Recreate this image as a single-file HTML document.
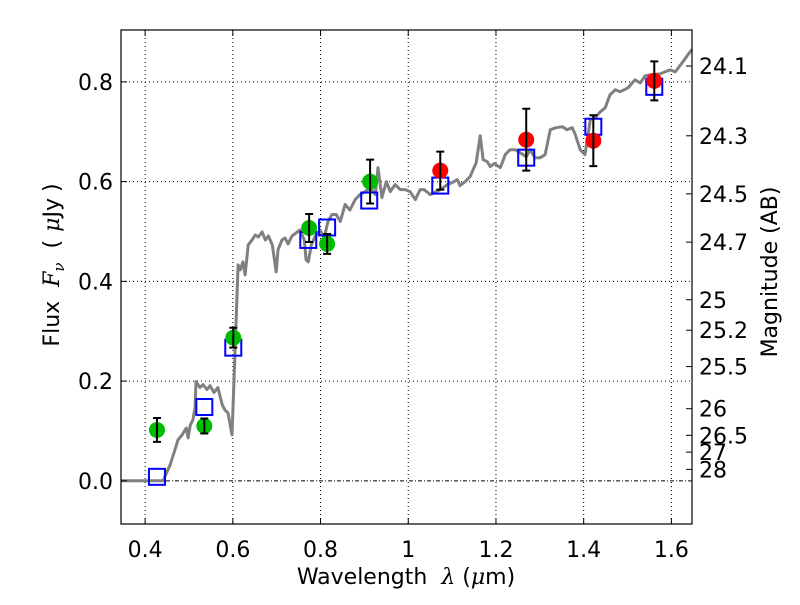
<!DOCTYPE html>
<html><head><meta charset="utf-8"><style>
body{margin:0;background:#fff;}
svg text{font-family:"DejaVu Sans","Liberation Sans",sans-serif;}
</style></head><body>
<svg id="chart" width="800" height="600" xmlns="http://www.w3.org/2000/svg">
<rect width="800" height="600" fill="#fff"/>
<g id="grid"></g>
<g id="plot"></g>
<g id="axes"></g>
</svg>
<script>
const modelLam=[0.345,0.441,0.457,0.468,0.475,0.484,0.494,0.498,0.503,0.509,0.514,0.516,0.525,0.532,0.541,0.548,0.557,0.566,0.576,0.582,0.589,0.598,0.601,0.612,0.617,0.623,0.628,0.635,0.644,0.651,0.658,0.667,0.674,0.681,0.690,0.699,0.703,0.712,0.719,0.726,0.735,0.744,0.753,0.763,0.767,0.772,0.779,0.788,0.799,0.808,0.817,0.826,0.836,0.845,0.856,0.867,0.879,0.890,0.902,0.913,0.925,0.931,0.940,0.950,0.959,0.970,0.982,0.993,1.004,1.016,1.027,1.036,1.050,1.073,1.089,1.100,1.112,1.118,1.130,1.141,1.155,1.164,1.171,1.180,1.187,1.196,1.210,1.221,1.232,1.244,1.255,1.269,1.278,1.289,1.301,1.312,1.324,1.337,1.351,1.362,1.374,1.381,1.392,1.403,1.415,1.426,1.438,1.449,1.460,1.472,1.483,1.501,1.517,1.529,1.540,1.552,1.574,1.597,1.609,1.627,1.638,1.647];
const modelFlux=[0,0,0.032,0.062,0.082,0.092,0.106,0.086,0.112,0.122,0.148,0.199,0.187,0.193,0.183,0.191,0.177,0.187,0.152,0.142,0.136,0.092,0.162,0.433,0.423,0.439,0.413,0.473,0.483,0.493,0.489,0.499,0.483,0.491,0.473,0.419,0.463,0.483,0.487,0.475,0.491,0.497,0.503,0.483,0.443,0.439,0.473,0.491,0.503,0.487,0.520,0.534,0.534,0.520,0.554,0.543,0.564,0.574,0.580,0.588,0.574,0.628,0.568,0.600,0.580,0.594,0.584,0.584,0.580,0.564,0.584,0.584,0.574,0.584,0.594,0.598,0.604,0.592,0.600,0.610,0.638,0.692,0.644,0.640,0.630,0.636,0.628,0.654,0.664,0.664,0.658,0.650,0.664,0.648,0.648,0.654,0.704,0.708,0.710,0.704,0.708,0.694,0.664,0.654,0.724,0.728,0.740,0.748,0.774,0.784,0.780,0.788,0.804,0.798,0.812,0.814,0.816,0.824,0.820,0.841,0.855,0.865];
const greenLam=[0.427,0.535,0.601,0.774,0.815,0.913];
const greenFlux=[0.102,0.110,0.287,0.507,0.475,0.600];
const greenErr=[0.024,0.015,0.020,0.028,0.020,0.044];
const redLam=[1.073,1.269,1.422,1.561];
const redFlux=[0.622,0.684,0.682,0.802];
const redErr=[0.038,0.062,0.051,0.039];
const sqLam=[0.427,0.535,0.601,0.772,0.815,0.911,1.073,1.269,1.422,1.561];
const sqFlux=[0.008,0.148,0.267,0.483,0.508,0.562,0.592,0.648,0.710,0.790];
const xTicks=[0.4,0.6,0.8,1.0,1.2,1.4,1.6];
const xTickLabels=["0.4","0.6","0.8","1","1.2","1.4","1.6"];
const yTicks=[0,0.2,0.4,0.6,0.8];
const yTickLabels=["0.0","0.2","0.4","0.6","0.8"];
const magTicks=[24.1,24.3,24.5,24.7,25,25.2,25.5,26,26.5,27,28];

const L=121,R=692,T=30,B=524,xmin=0.345,xmax=1.647,ymin=-0.0866,ymax=0.904;
const X=v=>L+(v-xmin)/(xmax-xmin)*(R-L);
const Y=v=>B-(v-ymin)/(ymax-ymin)*(B-T);
const NS="http://www.w3.org/2000/svg";
function mk(tag,attrs,parent){const e=document.createElementNS(NS,tag);for(const k in attrs)e.setAttribute(k,attrs[k]);parent.appendChild(e);return e;}
const grid=document.getElementById('grid'),plot=document.getElementById('plot'),axes=document.getElementById('axes');
const FS=22;
xTicks.forEach((t,i)=>{
 const g=mk('line',{x1:X(t),x2:X(t),y1:T,y2:B,stroke:'#000','stroke-width':1,'stroke-dasharray':'1,3'},grid);
 
 
 mk('line',{x1:X(t),x2:X(t),y1:B,y2:B-6,stroke:'#000'},axes);
 mk('line',{x1:X(t),x2:X(t),y1:T,y2:T+6,stroke:'#000'},axes);
 const tx=mk('text',{x:X(t),y:B+33,'font-size':FS,'text-anchor':'middle'},axes);
 tx.textContent=xTickLabels[i];
 
 
});
yTicks.forEach((t,i)=>{
 const g=mk('line',{x1:L,x2:R,y1:Y(t),y2:Y(t),stroke:'#000','stroke-width':1,'stroke-dasharray':t===0?'4,2,1,2':'1,3'},grid);
 
 
 mk('line',{x1:L,x2:L+6,y1:Y(t),y2:Y(t),stroke:'#000'},axes);
 const tx=mk('text',{x:L-8,y:Y(t)+8,'font-size':FS,'text-anchor':'end'},axes);
 tx.textContent=yTickLabels[i];
 
 
});
magTicks.forEach(m=>{
 const f=Math.pow(10,(23.9-m)/2.5);
 mk('line',{x1:R,x2:R-6,y1:Y(f),y2:Y(f),stroke:'#000'},axes);
 const tx=mk('text',{x:R+7,y:Y(f)+8,'font-size':FS},axes);
 tx.textContent=String(m);
 
 
});

const pts=modelLam.map((l,i)=>X(l).toFixed(1)+','+Y(modelFlux[i]).toFixed(1)).join(' ');
const ml=mk('polyline',{points:pts,fill:'none',stroke:'#808080','stroke-width':3,'stroke-linejoin':'round'},plot);



sqLam.forEach((l,i)=>{
 const s=mk('rect',{x:X(l)-8,y:Y(sqFlux[i])-8,width:16,height:16,fill:'none',stroke:'#0000ff','stroke-width':2},plot);
 
 
});
function pointSet(lams,fl,errs,color,name){
 lams.forEach((l,i)=>{
  const c=mk('circle',{cx:X(l),cy:Y(fl[i]),r:8,fill:color},plot);
  
  
  const x=X(l),y1=Y(fl[i]+errs[i]),y2=Y(fl[i]-errs[i]);
  const e=mk('path',{d:`M${x},${y1}V${y2}M${x-4},${y1}H${x+4}M${x-4},${y2}H${x+4}`,stroke:'#000','stroke-width':2,fill:'none'},plot);
  
  
 });
}
pointSet(greenLam,greenFlux,greenErr,'#00bb00','observed-flux-green');
pointSet(redLam,redFlux,redErr,'#ff0000','observed-flux-red');

const fr=mk('rect',{x:L,y:T,width:R-L,height:B-T,fill:'none',stroke:'#000','stroke-width':1.2},axes);


const xl=mk('text',{x:406,y:584,'font-size':FS,'text-anchor':'middle'},axes);
xl.innerHTML='Wavelength<tspan dx="14" font-family="DejaVu Serif,serif" font-style="italic">λ</tspan> (<tspan font-family="DejaVu Serif,serif" font-style="italic">μ</tspan>m)';


const yl=mk('text',{x:0,y:0,'font-size':FS,'text-anchor':'middle',transform:'translate(59,265) rotate(-90)'},axes);
yl.innerHTML='Flux<tspan dx="14" font-family="DejaVu Serif,serif" font-style="italic">F</tspan><tspan font-family="DejaVu Serif,serif" font-size="15" font-style="italic" dy="5">ν</tspan><tspan dx="14" dy="-5">(</tspan><tspan dx="8" font-family="DejaVu Serif,serif" font-style="italic">μ</tspan>Jy<tspan dx="6">)</tspan>';


const rl=mk('text',{x:0,y:0,'font-size':FS,'text-anchor':'middle',transform:'translate(777,272) rotate(-90)'},axes);
rl.textContent='Magnitude (AB)';


</script>
</body></html>
